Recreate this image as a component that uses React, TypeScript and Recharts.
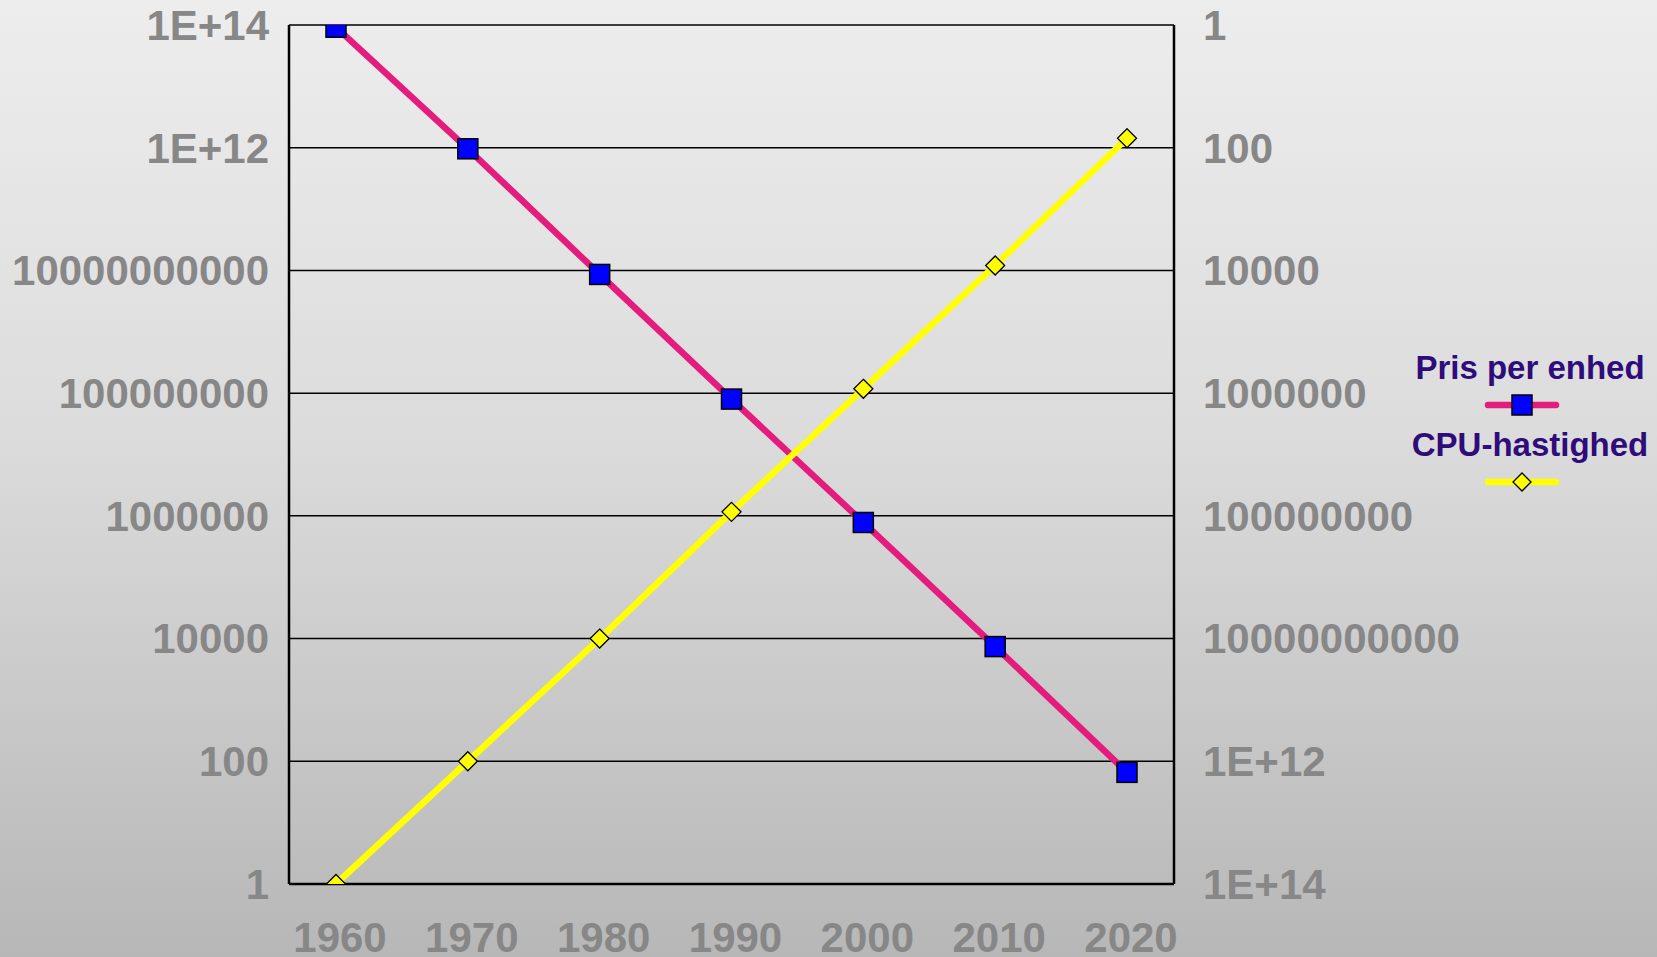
import { CartesianGrid, Line, LineChart, XAxis, YAxis } from "recharts";

const years = ["1960", "1970", "1980", "1990", "2000", "2010", "2020"];
const prisPerEnhed = [9.2e13, 9.6e11, 8.6e9, 8.0e7, 7.8e5, 7.4e3, 66];
const cpuHastighed = [1e14, 1e12, 1e10, 8.6e7, 8.5e5, 8.3e3, 70];
const logTicks = [1, 100, 1e4, 1e6, 1e8, 1e10, 1e12, 1e14];

const data = years.map((year, i) => ({
  year,
  pris: prisPerEnhed[i],
  cpu: cpuHastighed[i],
}));

const legendItems = [
  { name: "Pris per enhed", color: "#E31C7E", marker: "square" },
  { name: "CPU-hastighed", color: "#FFFF00", marker: "diamond" },
];

const FONT = '"Liberation Sans", Arial, sans-serif';
const tickStyle = { fill: "#878787", fontSize: 42, fontWeight: 700, fontFamily: FONT };

const formatTick = (v: number) => {
  const exp = Math.round(Math.log10(v));
  return exp >= 12 ? `1E+${exp}` : String(Math.round(v));
};

const SquareDot = (props: any) => {
  const { cx, cy, index } = props;
  if (cx == null || cy == null) return null;
  return (
    <rect key={`sq-${index}`} x={cx - 10} y={cy - 10} width={20} height={20} fill="#0000FF" stroke="#000" strokeWidth={1.5} />
  );
};

const DiamondDot = (props: any) => {
  const { cx, cy, index } = props;
  if (cx == null || cy == null) return null;
  const r = 9.5;
  return (
    <polygon
      key={`dm-${index}`}
      points={`${cx},${cy - r} ${cx + r},${cy} ${cx},${cy + r} ${cx - r},${cy}`}
      fill="#FFFF00"
      stroke="#000"
      strokeWidth={1.3}
    />
  );
};

function LegendSample({ color, marker }: { color: string; marker: string }) {
  return (
    <svg width={80} height={24} style={{ display: "block", margin: "5px auto 0", position: "relative", left: -8 }}>
      <line x1={6} y1={12} x2={74} y2={12} stroke={color} strokeWidth={6.5} strokeLinecap="round" />
      {marker === "square" ? (
        <rect x={30} y={2} width={20} height={20} fill="#0000FF" stroke="#000" strokeWidth={1.5} />
      ) : (
        <polygon points="40,3 49,12 40,21 31,12" fill="#FFFF00" stroke="#000" strokeWidth={1.3} />
      )}
    </svg>
  );
}

export default function App() {
  return (
    <div
      style={{
        position: "absolute",
        left: 0,
        top: 0,
        width: 1657,
        height: 957,
        background: "linear-gradient(to bottom, #ededed 0%, #dcdcdc 45%, #b7b7b7 100%)",
        fontFamily: FONT,
      }}
    >
      <LineChart width={1657} height={957} data={data} margin={{ top: 25, right: 0, bottom: 0, left: 0 }}>
        <CartesianGrid yAxisId="left" vertical={false} stroke="#000" strokeWidth={1.5} strokeOpacity={1} />
        <XAxis
          dataKey="year"
          height={73}
          padding={{ left: 47, right: 47 }}
          axisLine={{ stroke: "#000", strokeWidth: 2.5 }}
          tickLine={false}
          tickSize={0}
          tickMargin={38}
          tick={{ ...tickStyle, dx: 4 }}
          interval={0}
        />
        <YAxis
          yAxisId="left"
          width={289}
          scale="log"
          domain={[1, 1e14]}
          ticks={logTicks}
          allowDataOverflow
          interval={0}
          axisLine={{ stroke: "#000", strokeWidth: 2.5 }}
          tickLine={false}
          tickSize={0}
          tickMargin={20}
          tick={tickStyle}
          tickFormatter={formatTick}
        />
        <YAxis
          yAxisId="right"
          orientation="right"
          width={483}
          scale="log"
          reversed
          domain={[1, 1e14]}
          ticks={logTicks}
          allowDataOverflow
          interval={0}
          axisLine={{ stroke: "#000", strokeWidth: 2.5 }}
          tickLine={false}
          tickSize={0}
          tickMargin={29}
          tick={{ ...tickStyle, textAnchor: "start" }}
          tickFormatter={formatTick}
        />
        <Line
          yAxisId="left"
          dataKey="pris"
          name="Pris per enhed"
          stroke="#E31C7E"
          strokeWidth={6.5}
          dot={SquareDot}
          activeDot={false}
          isAnimationActive={false}
        />
        <Line
          yAxisId="right"
          dataKey="cpu"
          name="CPU-hastighed"
          stroke="#FFFF00"
          strokeWidth={6.5}
          dot={DiamondDot}
          activeDot={false}
          isAnimationActive={false}
        />
      </LineChart>
      <div style={{ position: "absolute", left: 1400, top: 348, width: 260 }}>
        {legendItems.map((item) => (
          <div key={item.name} style={{ textAlign: "center", marginBottom: 8 }}>
            <div style={{ color: "#2E0C7A", fontSize: 33, fontWeight: 700, lineHeight: "40px" }}>{item.name}</div>
            <LegendSample color={item.color} marker={item.marker} />
          </div>
        ))}
      </div>
    </div>
  );
}
